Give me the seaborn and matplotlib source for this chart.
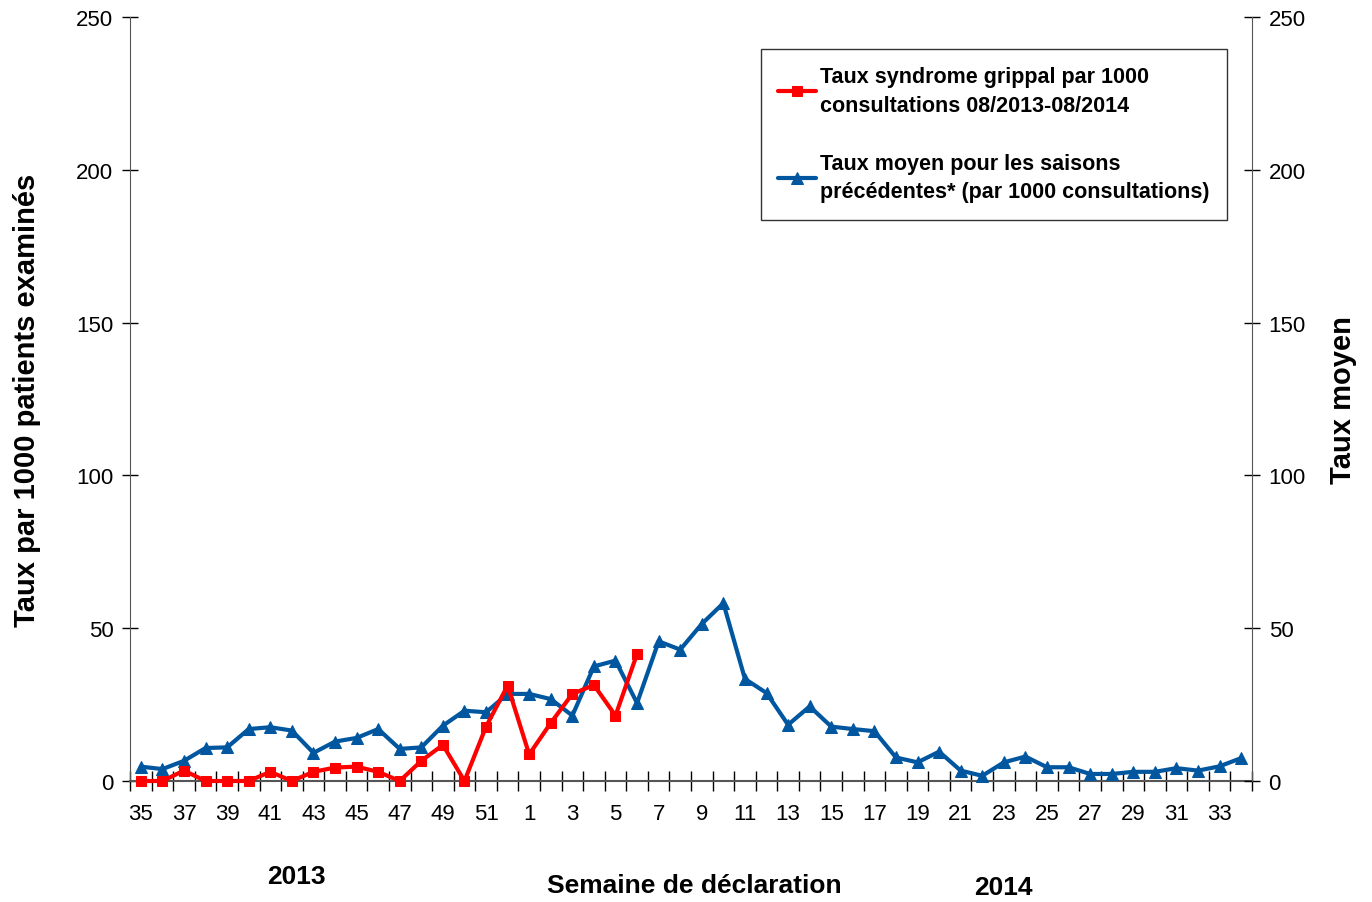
import numpy as np
import pandas as pd
import matplotlib
matplotlib.use("Agg")
import matplotlib.pyplot as plt
import seaborn as sns

weeks = list(range(35, 53)) + list(range(1, 35))

taux_grippal = [0, 0, 3.4, 0, 0, 0, 3, 0, 3, 4.4, 4.7, 3, 0, 6.6, 11.8, 0, 17.8, 31.2,
                8.7, 19, 28.5, 31.4, 21.4, 41.6]
taux_moyen = [4.7, 3.9, 6.6, 10.8, 11, 17, 17.6, 16.5, 9.2, 12.9, 14.1, 17, 10.5, 11,
              18.1, 23, 22.5, 28.5, 28.5, 26.8, 21.4, 37.5, 39.4, 25.5, 45.7, 43, 51.4,
              58.2, 33.4, 28.8, 18.4, 24.4, 17.8, 17, 16.3, 7.7, 6.1, 9.6, 3.4, 1.7, 6.1,
              8, 4.5, 4.5, 2.3, 2.3, 3, 3, 4.2, 3.4, 4.8, 7.5]

lab_red = "Taux syndrome grippal par 1000\nconsultations 08/2013-08/2014"
lab_blue = "Taux moyen pour les saisons\nprécédentes* (par 1000 consultations)"

df = pd.DataFrame({
    "pos": np.arange(len(weeks)),
    "semaine": weeks,
    "grippal": taux_grippal + [np.nan] * (len(weeks) - len(taux_grippal)),
    "moyen": taux_moyen,
})

sns.set_style("white")
plt.rcParams["font.family"] = ["Liberation Sans", "DejaVu Sans"]
plt.rcParams["text.color"] = "black"
plt.rcParams["axes.labelcolor"] = "black"
plt.rcParams["xtick.color"] = "black"
plt.rcParams["ytick.color"] = "black"

fig = plt.figure(figsize=(13.72, 9.03), dpi=100)
ax = fig.add_axes([0.0948, 0.134, 0.8177, 0.846])

red = "#ff0000"
blue = "#0057a0"
sns.lineplot(data=df, x="pos", y="moyen", ax=ax, color=blue, lw=3, marker="^",
             markersize=9, markeredgecolor=blue, label=lab_blue, clip_on=False, zorder=5)
sns.lineplot(data=df.dropna(), x="pos", y="grippal", ax=ax, color=red, lw=3, marker="s",
             markersize=7.5, markeredgecolor=red, label=lab_red, clip_on=False, zorder=6)

ax.set_xlim(-0.5, len(weeks) - 0.5)
ax.set_ylim(0, 250)
ax.set_xticks(df["pos"][::2])
ax.set_xticklabels([str(w) for w in weeks[::2]], fontsize=16)
ax.set_xticks(np.arange(-0.5, len(weeks), 1), minor=True)
ax.tick_params(axis="x", which="major", length=0, pad=16)
ax.tick_params(axis="x", which="minor", bottom=True, direction="inout", length=14,
               width=1, color="black")
ax.set_yticks(range(0, 251, 50))
ax.tick_params(axis="y", left=True, direction="inout", length=12, width=1, labelsize=16,
               color="black", pad=6)
ax.set_xlabel("")
ax.set_ylabel("Taux par 1000 patients examinés", fontsize=21, fontweight="bold", labelpad=25)

for s in ax.spines.values():
    s.set_visible(False)
ax.spines["left"].set_visible(True)
ax.spines["left"].set_color("#555555")
ax.spines["bottom"].set_visible(True)
ax.spines["bottom"].set_color("#555555")
ax.spines["bottom"].set_linewidth(1.5)

ax2 = ax.twinx()
ax2.set_position(ax.get_position())
ax2.set_ylim(0, 250)
ax2.set_yticks(range(0, 251, 50))
ax2.tick_params(axis="y", right=True, direction="inout", length=12, width=1, labelsize=16,
                color="black", pad=6)
ax2.set_ylabel("Taux moyen", fontsize=21, fontweight="bold", labelpad=17)
for s in ax2.spines.values():
    s.set_visible(False)
ax2.spines["right"].set_visible(True)
ax2.spines["right"].set_color("#555555")
ax2.grid(False)

h, l = ax.get_legend_handles_labels()
leg = ax.legend(h[::-1], l[::-1], loc="upper right", bbox_to_anchor=(0.9777, 0.958),
                prop={"weight": "bold", "size": 15.5}, frameon=True,
                fancybox=False, edgecolor="black", handlelength=1.75, handletextpad=0.2,
                borderpad=0.8, borderaxespad=0, labelspacing=1.75)
leg.get_frame().set_linewidth(1)
for t in leg.get_texts():
    t.set_linespacing(1.45)

fig.text(296 / 1372, 1 - 877 / 903, "2013", fontsize=19, fontweight="bold", ha="center", va="center")
fig.text(694 / 1372, 1 - 886 / 903, "Semaine de déclaration", fontsize=19, fontweight="bold",
         ha="center", va="center")
fig.text(1003 / 1372, 1 - 888 / 903, "2014", fontsize=19, fontweight="bold", ha="center", va="center")

fig.savefig("out.png", dpi=100)
